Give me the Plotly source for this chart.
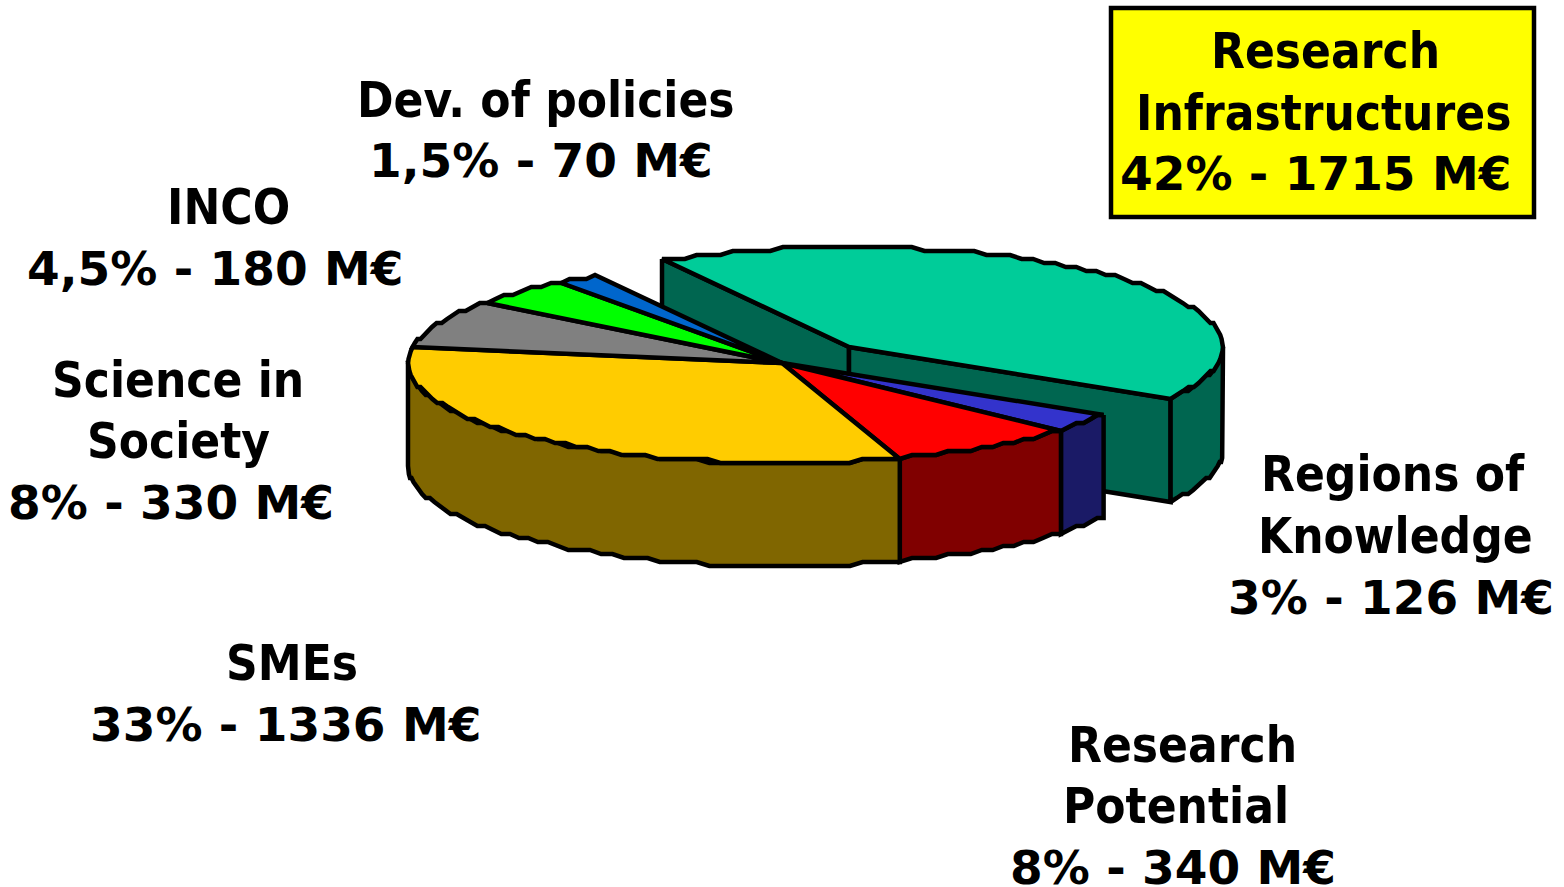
import numpy as np
import plotly.graph_objects as go

# Data: clockwise from the exploded slice
categories = ["Research Infrastructures", "Regions of Knowledge", "Research Potential",
              "SMEs", "Science in Society", "INCO", "Dev. of policies"]
amounts_meur = [1715, 126, 340, 1336, 330, 180, 70]
top_colors = ["#00CC99", "#3333CC", "#FF0000", "#FFCC00", "#808080", "#00FF00", "#0066CC"]
side_colors = ["#006650", "#1A1A66", "#800000", "#806600", "#404040", "#008000", "#003366"]

label_lines = [
    ("Research", 1325, 51), ("Infrastructures", 1323, 113), ("42% - 1715 M€", 1315, 173),
    ("Regions of", 1393, 474), ("Knowledge", 1395, 536), ("3% - 126 M€", 1391, 597),
    ("Research", 1182, 745), ("Potential", 1176, 806), ("8% - 340 M€", 1173, 867),
    ("SMEs", 292, 663), ("33% - 1336 M€", 285, 724),
    ("Science in", 178, 380), ("Society", 178, 441), ("8% - 330 M€", 171, 502),
    ("INCO", 228, 207), ("4,5% - 180 M€", 215, 268),
    ("Dev. of policies", 546, 100), ("1,5% - 70 M€", 541, 160),
]

# Projection of the pie
CX, CY = 782, 363
RX, RY = 374, 100
DEPTH = 103
EX, EY = 67, -16
START = 120.0
STEP = 2.0
SNAP = 4.0      # the outline of the reference is visibly stepped
LW = 4.5

amounts = np.array(amounts_meur, float)
sweeps = amounts / amounts.sum() * 360
ends = START - np.cumsum(sweeps)
starts = ends + sweeps


def arc(a0, a1, cx, cy, dy=0):
    n = max(2, int(abs(a0 - a1) / STEP) + 2)
    t = np.radians(np.linspace(a0, a1, n))
    return cx + RX * np.cos(t), cy - np.round(RY * np.sin(t) / SNAP) * SNAP + dy


fig = go.Figure()


def poly(x, y, color):
    fig.add_trace(go.Scatter(
        x=list(x) + [x[0]], y=list(y) + [y[0]], mode="lines", fill="toself",
        fillcolor=color, line=dict(color="black", width=LW), hoverinfo="skip",
        showlegend=False))


def cut_wall(px, py, qx, qy, color):
    poly([px, qx, qx, px], [py, qy, qy + DEPTH, py + DEPTH], color)


def rim(a0, a1, cx, cy, color):
    xt, yt = arc(a0, a1, cx, cy)
    xb, yb = arc(a1, a0, cx, cy, DEPTH)
    poly(np.r_[xt, xb], np.r_[yt, yb], color)


# Exploded slice
ex_cx, ex_cy = CX + EX, CY + EY
ax, ay = arc(starts[0], ends[0], ex_cx, ex_cy)
cut_wall(ax[0], ay[0], ex_cx, ex_cy, side_colors[0])
cut_wall(ex_cx, ex_cy, ax[-1], ay[-1], side_colors[0])
rim(ends[0], 0, ex_cx, ex_cy, side_colors[0])
poly(np.r_[ex_cx, ax], np.r_[ex_cy, ay], top_colors[0])

# Main body: sides of the front half, then the tops
for i, (a0, a1) in zip([1, 2, 3], [(starts[1], ends[1]), (starts[2], ends[2]), (starts[3], -180)]):
    rim(a0, a1, CX, CY, side_colors[i])
for i in range(1, len(amounts)):
    x, y = arc(starts[i], ends[i], CX, CY)
    poly(np.r_[CX, x], np.r_[CY, y], top_colors[i])


def line_font(text):
    if "€" in text:
        return dict(family="DejaVu Sans", size=47, color="black")
    return dict(family="DejaVu Sans Condensed, DejaVu Sans", size=49, color="black")


annotations = [
    dict(x=x, y=y, text=f"<b>{t}</b>", showarrow=False, xanchor="center", yanchor="middle",
         font=line_font(t))
    for t, x, y in label_lines
]

fig.update_layout(
    width=1564, height=887, margin=dict(l=0, r=0, t=0, b=0),
    paper_bgcolor="white", plot_bgcolor="white",
    xaxis=dict(range=[0, 1564], visible=False, fixedrange=True),
    yaxis=dict(range=[887, 0], visible=False, fixedrange=True),
    shapes=[dict(type="rect", x0=1111, y0=8, x1=1534, y1=217, fillcolor="#FFFF00",
                 line=dict(color="black", width=LW), layer="below")],
    annotations=annotations,
)
fig.write_html("out.html", config=dict(displayModeBar=False),
               post_script="document.body.style.margin='0';")
